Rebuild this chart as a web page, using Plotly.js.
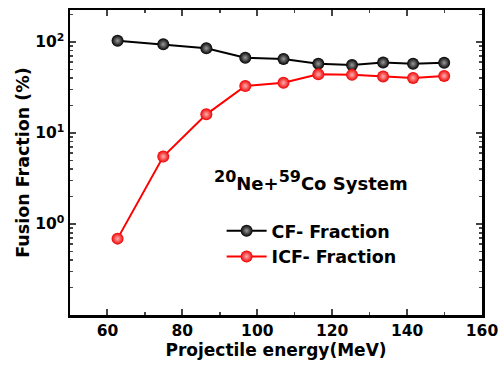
<!DOCTYPE html>
<html><head><meta charset="utf-8">
<script src="https://cdn.plot.ly/plotly-3.0.1.min.js"></script>
<style>body{margin:0;background:#fff}#c{width:499px;height:367px}</style>
</head><body><div id="c"></div>
<script>
const energy = [62.7, 74.9, 86.4, 96.8, 107, 116.3, 125.3, 133.6, 141.6, 149.9];
const cfFraction = [103, 94, 85, 67, 65, 57.5, 55.6, 59.4, 57.5, 58.9];
const icfFraction = [0.69, 5.5, 16, 32.7, 35.5, 44, 43.4, 41.7, 40.2, 42.3];
const yTickVals = [1, 10, 100];
const yTickText = ['10<sup>0</sup>', '10<sup>1</sup>', '10<sup>2</sup>'];
const yMinorVals = [0.2,0.3,0.4,0.5,0.6,0.7,0.8,0.9,2,3,4,5,6,7,8,9,20,30,40,50,60,70,80,90,200];

const F = 'DejaVu Sans, sans-serif';
const traces = [
  {x: energy, y: cfFraction, name: 'CF- Fraction', type: 'scatter', mode: 'lines+markers',
   line: {color: '#000', width: 2},
   marker: {color: '#000', size: 12, gradient: {type: 'radial', color: '#9a9a9a'}}},
  {x: energy, y: icfFraction, name: 'ICF- Fraction', type: 'scatter', mode: 'lines+markers',
   line: {color: '#ff0000', width: 2},
   marker: {color: '#ee0000', size: 12, gradient: {type: 'radial', color: '#ffb0b0'}}}
];
const layout = {
  width: 499, height: 367,
  margin: {l: 70, r: 17, t: 10, b: 52},
  paper_bgcolor: '#fff', plot_bgcolor: '#fff',
  font: {family: F, color: '#000', weight: 'bold'},
  showlegend: true,
  legend: {x: 0.368, y: 0.335, xanchor: 'left', yanchor: 'top', bgcolor: 'rgba(0,0,0,0)',
           font: {size: 17.5, family: F, weight: 'bold'}, tracegroupgap: 0, itemwidth: 40},
  xaxis: {range: [50, 160], dtick: 20, ticks: 'inside', ticklen: 6, tickwidth: 2,
          showline: true, linewidth: 2.5, linecolor: '#000', mirror: 'ticks',
          showgrid: false, zeroline: false,
          tickfont: {size: 15.5, family: F, weight: 'bold'},
          minor: {dtick: 10, ticks: 'inside', ticklen: 3, tickwidth: 1.5, showgrid: false},
          title: {text: 'Projectile energy(MeV)', font: {size: 17, family: F, weight: 'bold'}, standoff: 5}},
  yaxis: {type: 'log', range: [-1, 2.35], tickmode: 'array', tickvals: yTickVals, ticktext: yTickText,
          ticks: 'inside', ticklen: 6, tickwidth: 2,
          showline: true, linewidth: 2.5, linecolor: '#000', mirror: 'ticks',
          showgrid: false, zeroline: false,
          tickfont: {size: 15.5, family: F, weight: 'bold'},
          minor: {tickmode: 'array', tickvals: yMinorVals, ticks: 'inside', ticklen: 3, tickwidth: 1.5, showgrid: false},
          title: {text: 'Fusion Fraction (%)', font: {size: 17.5, family: F, weight: 'bold'}, standoff: 1}},
  annotations: [{xref: 'paper', yref: 'paper', x: 0.345, y: 0.44, xanchor: 'left', yanchor: 'middle',
    showarrow: false, text: '<sup><span style="font-size:16px">20</span></sup>Ne+<sup><span style="font-size:16px">59</span></sup>Co System',
    font: {size: 18, family: F, weight: 'bold'}}]
};
Plotly.newPlot('c', traces, layout, {displayModeBar: false, staticPlot: true});
</script></body></html>
